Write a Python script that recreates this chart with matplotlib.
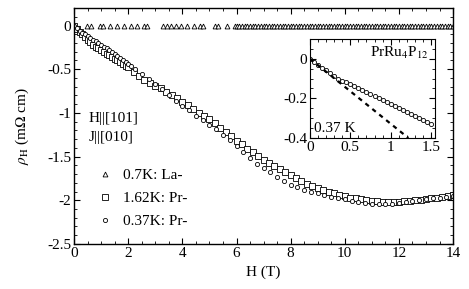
import numpy as np
import matplotlib
matplotlib.use('Agg')
import matplotlib.pyplot as plt
from matplotlib.ticker import MultipleLocator

plt.rcParams['font.family'] = ['Liberation Serif', 'DejaVu Serif']
plt.rcParams['mathtext.fontset'] = 'stix'

# 0.7K La- : flat at zero
la_h = [0.48, 0.63, 0.96, 1.07, 1.33, 1.59, 1.85, 2.11, 2.33, 2.59, 2.70, 3.29, 3.44, 3.59,
        3.77, 3.95, 4.18, 4.44, 4.66, 4.77, 5.21, 5.32, 5.66,
        5.95, 6.0, 6.1, 6.2, 6.3, 6.4, 6.5, 6.6, 6.7, 6.8, 6.9, 7.0, 7.1, 7.2, 7.3, 7.4, 7.5,
        7.6, 7.7, 7.8, 7.9, 8.0, 8.1, 8.2, 8.3, 8.4, 8.5, 8.6, 8.7, 8.8, 8.9, 9.0, 9.1, 9.2,
        9.3, 9.4, 9.5, 9.6, 9.7, 9.8, 9.9, 10.0, 10.1, 10.2, 10.3, 10.4, 10.5, 10.6, 10.7,
        10.8, 10.9, 11.0, 11.1, 11.2, 11.3, 11.4, 11.5, 11.6, 11.7, 11.8, 11.9, 12.0, 12.1,
        12.2, 12.3, 12.4, 12.5, 12.6, 12.7, 12.8, 12.9, 13.0, 13.1, 13.2, 13.3, 13.4, 13.5,
        13.6, 13.7, 13.8, 13.9, 14.0]
la_rho = [0.0] * len(la_h)

# 1.62K Pr-
pr16_h = [0.0, 0.1, 0.2, 0.3, 0.4, 0.5, 0.6, 0.7, 0.8, 0.9, 1.0, 1.1, 1.2, 1.3, 1.4, 1.5,
          1.6, 1.7, 1.8, 1.9, 2.0,
          2.2, 2.4, 2.6, 2.8, 3.0, 3.2, 3.4, 3.6, 3.8, 4.0, 4.2, 4.4, 4.6, 4.8, 5.0, 5.2,
          5.4, 5.6, 5.8, 6.0, 6.2, 6.4, 6.6, 6.8, 7.0, 7.2, 7.4, 7.6, 7.8, 8.0, 8.2, 8.4,
          8.6, 8.8, 9.0, 9.2, 9.4, 9.6, 9.8, 10.0, 10.2, 10.4, 10.6, 10.8, 11.0, 11.2, 11.4,
          11.6, 11.8, 12.0, 12.2, 12.4, 12.6, 12.8, 13.0, 13.2, 13.4, 13.6, 13.8, 14.0]
pr16_rho = [0.0, -0.04, -0.07, -0.10, -0.13, -0.16, -0.19, -0.22, -0.24, -0.26, -0.28, -0.30,
            -0.32, -0.34, -0.36, -0.38, -0.40, -0.42, -0.44, -0.46, -0.48,
            -0.53, -0.58, -0.62, -0.66, -0.69, -0.72, -0.76, -0.80, -0.83, -0.87, -0.91,
            -0.96, -1.00, -1.03, -1.07, -1.12, -1.17, -1.22, -1.27, -1.32, -1.36, -1.41,
            -1.45, -1.49, -1.54, -1.57, -1.61, -1.64, -1.68, -1.71, -1.75, -1.78, -1.81,
            -1.84, -1.86, -1.88, -1.90, -1.92, -1.94, -1.95, -1.97, -1.98, -1.99, -2.00,
            -2.01, -2.01, -2.02, -2.02, -2.02, -2.02, -2.01, -2.01, -2.00, -2.00, -1.99,
            -1.98, -1.97, -1.96, -1.95, -1.94]

# 0.37K Pr-
pr37_h = [0.0, 0.1, 0.2, 0.3, 0.4, 0.5, 0.6, 0.7, 0.8, 0.9, 1.0, 1.1, 1.2, 1.3, 1.4, 1.5,
          1.6, 1.7, 1.8, 1.9, 2.0, 2.1,
          2.25, 2.5, 2.75, 3.0, 3.25, 3.5, 3.75, 4.0, 4.25, 4.5, 4.75, 5.0, 5.25, 5.5, 5.75,
          6.0, 6.25, 6.5, 6.75, 7.0, 7.25, 7.5, 7.75, 8.0, 8.25, 8.5, 8.75, 9.0, 9.25, 9.5,
          9.75, 10.0, 10.25, 10.5, 10.75, 11.0, 11.25, 11.5, 11.75, 12.0, 12.25, 12.5,
          12.75, 13.0, 13.25, 13.5, 13.75, 14.0]
pr37_rho = [0.0, -0.03, -0.06, -0.08, -0.10, -0.12, -0.14, -0.16, -0.18, -0.20, -0.22, -0.24,
            -0.26, -0.28, -0.30, -0.32, -0.35, -0.37, -0.40, -0.42, -0.44, -0.46,
            -0.50, -0.56, -0.61, -0.67, -0.73, -0.80, -0.86, -0.92, -0.97, -1.03, -1.08,
            -1.14, -1.19, -1.25, -1.31, -1.38, -1.45, -1.52, -1.58, -1.63, -1.68, -1.73,
            -1.78, -1.82, -1.85, -1.88, -1.90, -1.92, -1.94, -1.96, -1.98, -1.99, -2.01,
            -2.02, -2.03, -2.04, -2.04, -2.04, -2.04, -2.03, -2.02, -2.01, -2.00, -1.99,
            -1.98, -1.97, -1.96, -1.95]

# inset: 0.37K low field
ins_h = [0.0, 0.05, 0.1, 0.15, 0.2, 0.25, 0.3, 0.35, 0.4, 0.45, 0.5, 0.55, 0.6, 0.65, 0.7,
         0.75, 0.8, 0.85, 0.9, 0.95, 1.0, 1.05, 1.1, 1.15, 1.2, 1.25, 1.3, 1.35, 1.4, 1.45, 1.5]
ins_rho = [0.0, -0.015, -0.030, -0.044, -0.058, -0.073, -0.087, -0.100, -0.110, -0.118,
           -0.126, -0.136, -0.146, -0.156, -0.167, -0.177, -0.187, -0.197, -0.208, -0.218,
           -0.228, -0.238, -0.249, -0.259, -0.269, -0.279, -0.290, -0.300, -0.310, -0.320,
           -0.330]
fit_h = [0.0, 1.22]
fit_rho = [0.0, -0.40]

fig = plt.figure(figsize=(4.69, 2.89), dpi=100)
ax = fig.add_axes([0.158, 0.156, 0.808, 0.816])

mk = dict(linestyle='none', markerfacecolor='white', markeredgecolor='black', markeredgewidth=0.6)
ax.plot(la_h, la_rho, marker='^', markersize=3.5, label='0.7K: La-', **mk)
ax.plot(pr16_h, pr16_rho, marker='s', markersize=3.8, label='1.62K: Pr-', **mk)
ax.plot(pr37_h, pr37_rho, marker='o', markersize=3.0, label='0.37K: Pr-', **mk)

ax.set_xlim(0, 14)
ax.set_ylim(-2.5, 0.2)
ax.xaxis.set_major_locator(MultipleLocator(2))
ax.xaxis.set_minor_locator(MultipleLocator(0.5))
ax.yaxis.set_minor_locator(MultipleLocator(0.1))
ax.set_yticks([0, -0.5, -1, -1.5, -2, -2.5])
ax.set_yticklabels(['0', '-0.5', '-1', '-1.5', '-2', '-2.5'])
ax.tick_params(which='both', direction='in', top=True, right=True, labelsize=11, pad=2)
ax.tick_params(which='major', length=4, width=0.8)
ax.tick_params(which='minor', length=2, width=0.6)
for s in ax.spines.values():
    s.set_linewidth(1.0)
ax.set_xlabel('H (T)', fontsize=11, labelpad=4)
ax.set_ylabel(r'$\rho_{\rm H}$ (m$\Omega$ cm)', fontsize=11, labelpad=12)

ax.text(0.55, -1.06, 'H||[101]', fontsize=11, va='center')
ax.text(0.55, -1.28, 'J||[010]', fontsize=11, va='center')

ax.legend(loc='upper left', bbox_to_anchor=(0.04, 0.345), frameon=False, fontsize=11,
          numpoints=1, handlelength=1.2, handletextpad=0.6, labelspacing=0.6,
          borderaxespad=0)

# inset
axi = fig.add_axes([0.661, 0.5225, 0.2665, 0.3426])
axi.plot(ins_h, ins_rho, marker='o', markersize=3.0, **mk)
axi.plot(fit_h, fit_rho, color='black', linestyle=(0, (2, 2)), linewidth=1.6)
axi.set_xlim(0, 1.55)
axi.set_ylim(-0.4, 0.1)
axi.xaxis.set_minor_locator(MultipleLocator(0.1))
axi.yaxis.set_minor_locator(MultipleLocator(0.05))
axi.set_xticks([0, 0.5, 1, 1.5])
axi.set_xticklabels(['0', '0.5', '1', '1.5'])
axi.set_yticks([0, -0.2, -0.4])
axi.set_yticklabels(['0', '-0.2', '-0.4'])
axi.tick_params(which='both', direction='in', top=True, right=True, labelsize=11, pad=2)
axi.tick_params(which='major', length=4, width=0.8)
axi.tick_params(which='minor', length=2, width=0.6)
axi.text(0.95, 0.86, r'PrRu$_4$P$_{12}$', transform=axi.transAxes, fontsize=11,
         ha='right', va='center')
axi.text(0.03, 0.1, '0.37 K', transform=axi.transAxes, fontsize=11, ha='left', va='center')

fig.savefig('out.png', dpi=100)
